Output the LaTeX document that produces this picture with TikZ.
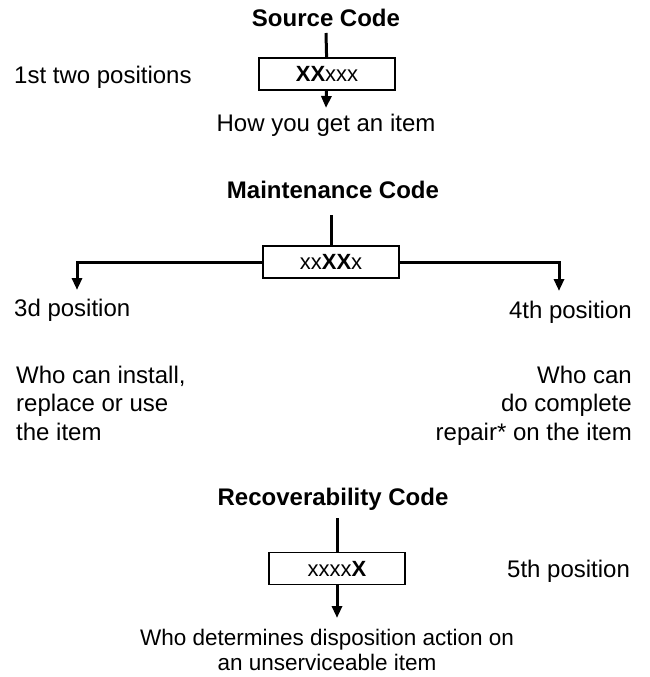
\documentclass[tikz,border=0pt]{standalone}
\usepackage{fontspec}
\setmainfont{Liberation Sans}
\usetikzlibrary{%
    arrows.meta,
    positioning
}
\tikzset{headarrow/.style = {line width=3pt, -{Triangle[length=12pt,width=10pt]}}}

\begin{document}
\begin{tikzpicture}[x=1pt, y=-1pt,
    wire/.style = {line width=3pt},
    label/.style = {inner sep=0pt, font=\fontsize{24}{28.5}\selectfont},
    title/.style = {inner sep=0pt, font=\fontsize{24}{28.5}\selectfont\bfseries},
    codebox/.style = {draw, line width=1.5pt, minimum width=136pt, minimum height=32pt,
        inner sep=0pt, font=\fontsize{22}{24}\selectfont}]
    \useasboundingbox (0,0) rectangle (649,677);

    \node[title, anchor=base] (srctitle) at (326,27) {Source Code};
    \node[codebox] (srcbox) at (327,74) {\textbf{XX}xxx};
    \node[label, anchor=base west] (srcpos) at (14,83) {1st two positions};
    \node[label, anchor=base] (srcwhat) at (326,131) {How you get an item};
    \coordinate (srctop) at (326,33);
    \coordinate (srctip) at (326,108);

    \draw[wire] (srctop) -- (srcbox);
    \draw[headarrow] (srcbox) -- (srctip);

    \node[title, anchor=base] (mnttitle) at (333,198) {Maintenance Code};
    \node[codebox] (mntbox) at (331,262) {xx\textbf{XX}x};
    \node[label, anchor=base west] (thirdpos) at (14,316) {3d position};
    \node[label, anchor=base east] (fourthpos) at (632,318) {4th position};
    \node[label, anchor=base west, align=left] (thirdwho) at (16,440)
        {Who can install,\\replace or use\\the item};
    \node[label, anchor=base east, align=right] (fourthwho) at (632,440)
        {Who can\\do complete\\repair* on the item};
    \coordinate (mnttop) at (331,215);
    \coordinate (mntleft) at (77,290);
    \coordinate (mntright) at (559,291);

    \draw[wire] (mnttop) -- (mntbox);
    \draw[headarrow] (mntbox.west) -| (mntleft);
    \draw[headarrow] (mntbox.east) -| (mntright);

    \node[title, anchor=base] (rectitle) at (333,505) {Recoverability Code};
    \node[codebox] (recbox) at (337,568.5) {xxxx\textbf{X}};
    \node[label, anchor=base west] (recpos) at (507,577) {5th position};
    \node[label, anchor=base, align=center, font=\fontsize{22.5}{25}\selectfont] (recwho)
        at (327,670) {Who determines disposition action on\\an unserviceable item};
    \coordinate (rectop) at (337,518);
    \coordinate (rectip) at (337,618);

    \draw[wire] (rectop) -- (recbox);
    \draw[headarrow] (recbox) -- (rectip);
\end{tikzpicture}
\end{document}
